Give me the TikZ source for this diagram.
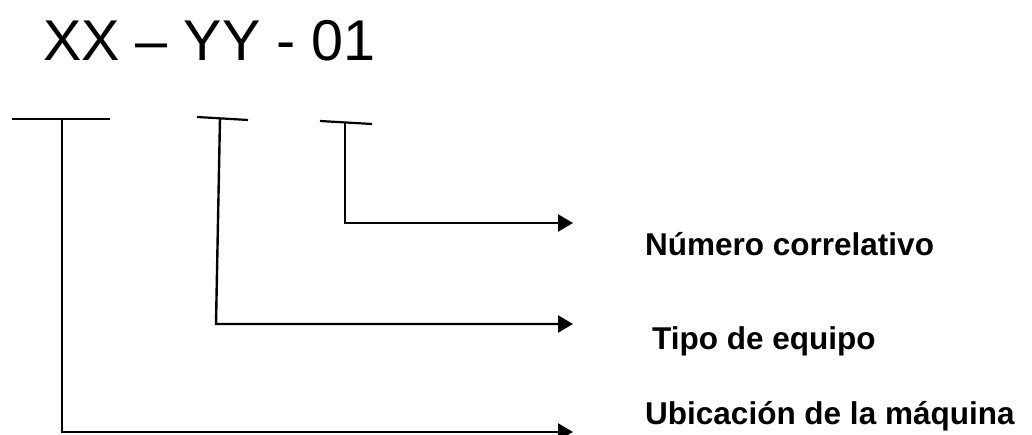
\documentclass[tikz,border=0pt]{standalone}
\usepackage{fontspec}
\setmainfont{Liberation Sans}
\usetikzlibrary{arrows.meta}

\tikzset{
	code/.style={inner sep=0pt, anchor=base west, font=\fontsize{57.5}{57.5}\selectfont},
	field/.style={inner sep=0pt, anchor=base west, font=\fontsize{31.5}{31.5}\selectfont\bfseries},
	bar/.style={line width=2.2pt},
	lead/.style={line width=2.4pt, -{Triangle[length=15pt,width=17pt]}}
}

\begin{document}
\begin{tikzpicture}[x=1pt,y=-1pt]
	\useasboundingbox (0,0) rectangle (1032,435);
	\node[code] (codigo) at (43,61) {XX – YY - 01};
	% tops of the three brackets
	\coordinate (a1) at (12,119);  \coordinate (a2) at (110,119);
	\coordinate (b1) at (197,117); \coordinate (b2) at (248,120);
	\coordinate (c1) at (320,121); \coordinate (c2) at (372,124);
	\coordinate (atop) at (62,119);
	\coordinate (btop) at (220,118.5);
	\coordinate (ctop) at (345,122.5);
	% corners and arrow tips
	\coordinate (abot) at (62,432);  \coordinate (aend) at (573,432);
	\coordinate (bbot) at (216,324); \coordinate (bend) at (573,324);
	\coordinate (cbot) at (345,223); \coordinate (cend) at (573,223);
	\draw[bar] (a1) -- (a2);
	\draw[bar] (b1) -- (b2);
	\draw[bar] (c1) -- (c2);
	\draw[lead] (atop) -- (abot) -- (aend);
	\draw[lead] (btop) -- (bbot) -- (bend);
	\draw[lead] (ctop) -- (cbot) -- (cend);
	\node[field] (numero) at (645,256) {Número correlativo};
	\node[field] (tipo) at (652,349) {Tipo de equipo};
	\node[field] (ubicacion) at (645,424) {Ubicación de la máquina};
\end{tikzpicture}
\end{document}
